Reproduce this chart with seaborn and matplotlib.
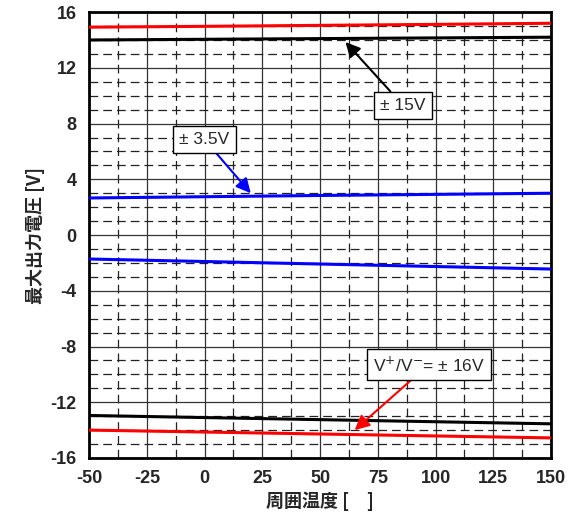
import matplotlib
matplotlib.use("Agg")
import matplotlib.pyplot as plt
import seaborn as sns
import pandas as pd
from matplotlib.ticker import MultipleLocator

sns.set_style("white")
plt.rcParams['font.family'] = ['Liberation Sans', 'Noto Sans CJK JP', 'DejaVu Sans']
plt.rcParams['axes.unicode_minus'] = False

temps = [-50, 0, 50, 100, 150]
vp16 = [14.92, 14.98, 15.05, 15.12, 15.2]
vp15 = [14.0, 14.05, 14.1, 14.15, 14.2]
vp35 = [2.66, 2.75, 2.84, 2.92, 3.0]
vn35 = [-1.72, -1.9, -2.08, -2.26, -2.44]
vn15 = [-12.95, -13.1, -13.25, -13.4, -13.55]
vn16 = [-14.0, -14.14, -14.28, -14.42, -14.56]

series = [("p16", vp16, "#ff0000"), ("p15", vp15, "#000000"), ("p35", vp35, "#0000ff"),
          ("n35", vn35, "#0000ff"), ("n15", vn15, "#000000"), ("n16", vn16, "#ff0000")]

rows = []
for name, vals, _ in series:
    for t, v in zip(temps, vals):
        rows.append({"temp": t, "v": v, "s": name})
df = pd.DataFrame(rows)
palette = {name: c for name, _, c in series}

fig = plt.figure(figsize=(5.71, 5.27), dpi=100)
ax = fig.add_axes([0.156, 0.131, 0.809, 0.846])
sns.lineplot(data=df, x="temp", y="v", hue="s", palette=palette, linewidth=2.2,
             legend=False, ax=ax, zorder=3)

ax.set_xlim(-50, 150)
ax.set_ylim(-16, 16)
ax.xaxis.set_major_locator(MultipleLocator(25))
ax.xaxis.set_minor_locator(MultipleLocator(12.5))
ax.yaxis.set_major_locator(MultipleLocator(4))
ax.yaxis.set_minor_locator(MultipleLocator(1))
ax.grid(which="major", color="#333333", linewidth=0.9, linestyle="-", zorder=1)
ax.grid(which="minor", color="#222222", linewidth=0.9, linestyle=(0, (7, 4)), zorder=1)
ax.set_axisbelow(True)
for sp in ax.spines.values():
    sp.set_color("black")
    sp.set_linewidth(2)
ax.tick_params(which="both", length=0, labelsize=13, pad=9)
for lab in ax.get_xticklabels() + ax.get_yticklabels():
    lab.set_fontweight("bold")

ax.set_xlabel("周囲温度 [　]", fontsize=13, fontweight="bold",
              family=['Noto Sans CJK JP', 'DejaVu Sans'], labelpad=3)
ax.set_ylabel("最大出力電圧 [V]", fontsize=13, fontweight="bold",
              family=['Noto Sans CJK JP', 'DejaVu Sans'], labelpad=4)

bbox = dict(boxstyle="square,pad=0.35", fc="white", ec="black", lw=1)
ax.annotate("± 15V", xy=(61, 13.85), xytext=(86, 9.3), fontsize=12.5,
            ha="center", va="center", bbox=bbox, zorder=5,
            arrowprops=dict(arrowstyle="-|>", color="black", lw=1.5, mutation_scale=22,
                            shrinkA=0, shrinkB=0))
ax.annotate("± 3.5V", xy=(20, 3.0), xytext=(0, 6.85), fontsize=12.5,
            ha="center", va="center", bbox=bbox, zorder=5,
            arrowprops=dict(arrowstyle="-|>", color="#0000ff", lw=1.5, mutation_scale=22,
                            shrinkA=0, shrinkB=0))
ax.annotate("V$^{+}$/V$^{-}$= ± 16V", xy=(65, -14.0), xytext=(97, -9.3), fontsize=12.5,
            ha="center", va="center", bbox=bbox, zorder=5,
            arrowprops=dict(arrowstyle="-|>", color="#ff0000", lw=1.5, mutation_scale=22,
                            shrinkA=0, shrinkB=0))

fig.savefig("out.png", dpi=100)
